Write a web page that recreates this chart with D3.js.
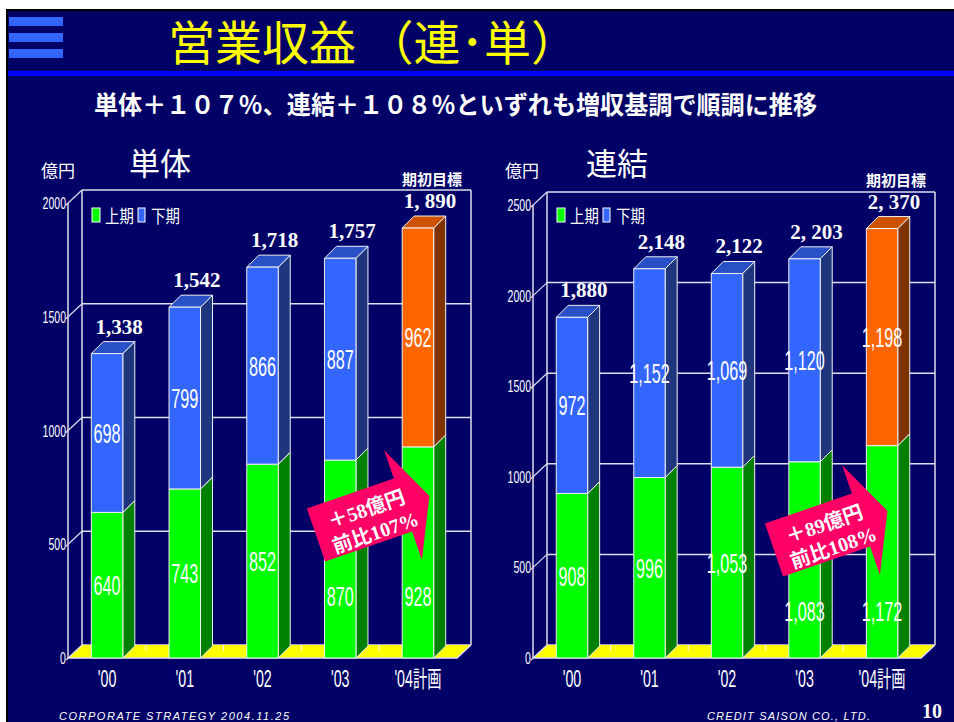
<!DOCTYPE html>
<html><head><meta charset="utf-8">
<script src="https://cdn.jsdelivr.net/npm/d3@7"></script>
<style>
html,body{margin:0;padding:0;background:#fff;}
svg{display:block;}
</style></head>
<body>
<script>
// ---------- data ----------
const categories = ["'00", "'01", "'02", "'03", "'04計画"];
const isPlan = [false, false, false, false, true];
const legendLabels = ["上期", "下期"];

const singleTicks = [0, 500, 1000, 1500, 2000];
const singleFirstHalf = [640, 743, 852, 870, 928];
const singleSecondHalf = [698, 799, 866, 887, 962];
const singleTotals = ["1,338", "1,542", "1,718", "1,757", "1, 890"];

const consolTicks = [0, 500, 1000, 1500, 2000, 2500];
const consolFirstHalf = [908, 996, 1053, 1083, 1172];
const consolSecondHalf = [972, 1152, 1069, 1120, 1198];
const consolTotals = ["1,880", "2,148", "2,122", "2, 203", "2, 370"];

const singleArrowText = ["＋58億円", "前比107%"];
const consolArrowText = ["＋89億円", "前比108%"];

const titleText = "営業収益 （連･単）";
const subtitleText = "単体＋１０７％、連結＋１０８％といずれも増収基調で順調に推移";
const footerLeft = "CORPORATE STRATEGY 2004.11.25";
const footerRight = "CREDIT SAISON CO., LTD.";
const pageNo = "10";

// ---------- styles ----------
const NAVY = "#000066";
const COLORS = {
  first: {front: "#00FF00", side: "#008000", top: "#00C000"},
  second: {front: "#3366FF", side: "#1F367F", top: "#2A50C8"},
  plan: {front: "#FF6600", side: "#803300", top: "#CC5200"}
};
const LINE = "#dedeee";
const CJK = "'Noto Sans CJK JP', sans-serif";
const COND = "'Liberation Sans', Arial, 'Noto Sans CJK JP', sans-serif";
const SERIF = "'Liberation Serif', 'Times New Roman', 'Noto Sans CJK JP', serif";

const W = 954, H = 722;
const svg = d3.select("body").append("svg").attr("width", W).attr("height", H);

// page frame
svg.append("rect").attr("x", 0).attr("y", 0).attr("width", W).attr("height", H).attr("fill", "#fff");
svg.append("rect").attr("x", 6).attr("y", 9).attr("width", W - 6).attr("height", H - 9).attr("fill", "#000");
svg.append("rect").attr("x", 8).attr("y", 11).attr("width", W - 8).attr("height", H - 11).attr("fill", NAVY);

// hamburger bars
[17, 33, 49].forEach(y => svg.append("rect").attr("x", 9).attr("y", y).attr("width", 54).attr("height", 9).attr("fill", "#3366FF"));
// blue rule
svg.append("rect").attr("x", 8).attr("y", 71).attr("width", W - 8).attr("height", 5).attr("fill", "#0000FF");

// title
svg.append("text").attr("x", 168).attr("y", 60).attr("fill", "#FFFF00")
  .attr("font-family", CJK).attr("font-size", 47).attr("xml:space", "preserve")
  .style("white-space", "pre").text(titleText);

// subtitle
svg.append("text").attr("x", 94).attr("y", 114).attr("fill", "#fff")
  .attr("font-family", CJK).attr("font-weight", "bold").attr("font-size", 25)
  .attr("textLength", 723).attr("lengthAdjust", "spacingAndGlyphs").text(subtitleText);

// footer
svg.append("text").attr("x", 59).attr("y", 720).attr("fill", "#fff")
  .attr("font-family", "'Liberation Sans', Arial, sans-serif").attr("font-style", "italic").attr("font-size", 11)
  .attr("textLength", 230).attr("lengthAdjust", "spacing").text(footerLeft);
svg.append("text").attr("x", 707).attr("y", 720).attr("fill", "#fff")
  .attr("font-family", "'Liberation Sans', Arial, sans-serif").attr("font-style", "italic").attr("font-size", 11)
  .attr("textLength", 163).attr("lengthAdjust", "spacing").text(footerRight);
svg.append("text").attr("x", 922).attr("y", 718).attr("fill", "#fff")
  .attr("font-family", SERIF).attr("font-weight", "bold").attr("font-size", 20).text(pageNo);

function condText(g, x, y, txt, size, sx, anchor) {
  return g.append("text")
    .attr("transform", `translate(${x},${y}) scale(${sx},1)`)
    .attr("text-anchor", anchor || "middle")
    .attr("font-family", COND).attr("font-size", size).attr("fill", "#fff").text(txt);
}

const fmt = d3.format(",");

function drawChart(cfg) {
  const g = svg.append("g");
  const wdx = 14, wdy = -13;   // wall depth
  const bdx = 12, bdy = -12;   // bar depth

  const x = d3.scaleBand().domain(categories).range([cfg.x0, cfg.x1]).paddingInner(0.595).paddingOuter(0.3);
  const y = d3.scaleLinear().domain([0, cfg.max]).range([cfg.yBase, cfg.yTop]);
  const step = (cfg.x1 - cfg.x0) / categories.length;

  // back wall gridlines
  g.selectAll(".grid").data(cfg.ticks).join("line")
    .attr("x1", cfg.x0 + wdx).attr("x2", cfg.x1 + wdx)
    .attr("y1", d => y(d) + wdy).attr("y2", d => y(d) + wdy)
    .attr("stroke", LINE).attr("stroke-width", 1.5);
  // wall verticals
  [cfg.x0 + wdx, cfg.x1 + wdx].forEach(xx => g.append("line")
    .attr("x1", xx).attr("x2", xx).attr("y1", y(cfg.max) + wdy).attr("y2", y(0) + wdy)
    .attr("stroke", LINE).attr("stroke-width", 1.5));

  // floor
  g.append("polygon")
    .attr("points", [[cfg.x0, y(0)], [cfg.x1, y(0)], [cfg.x1 + wdx, y(0) + wdy], [cfg.x0 + wdx, y(0) + wdy]].map(p => p.join(",")).join(" "))
    .attr("fill", "#FFFF00");
  g.append("polyline")
    .attr("points", [[cfg.x0, y(0)], [cfg.x1, y(0)], [cfg.x1 + wdx, y(0) + wdy]].map(p => p.join(",")).join(" "))
    .attr("fill", "none").attr("stroke", LINE).attr("stroke-width", 1.5);
  d3.range(1, categories.length).forEach(i => g.append("line")
    .attr("x1", cfg.x0 + i * step).attr("x2", cfg.x0 + i * step)
    .attr("y1", y(0) + wdy).attr("y2", y(0) + wdy + 6)
    .attr("stroke", "#fff").attr("stroke-width", 1));

  // front axis + tick connectors
  g.append("line").attr("x1", cfg.x0).attr("x2", cfg.x0).attr("y1", y(cfg.max)).attr("y2", y(0))
    .attr("stroke", LINE).attr("stroke-width", 1.5);
  g.selectAll(".conn").data(cfg.ticks).join("line")
    .attr("x1", cfg.x0 - 2).attr("x2", cfg.x0 + wdx)
    .attr("y1", d => y(d) + 2).attr("y2", d => y(d) + wdy)
    .attr("stroke", LINE).attr("stroke-width", 1.2);
  cfg.ticks.forEach(t => condText(g, cfg.x0 - 2, y(t) + 6, String(t), 16, 0.66, "end"));

  // bars
  categories.forEach((c, i) => {
    const bx = x(c), bw = x.bandwidth();
    const segs = [
      {v0: 0, v1: cfg.first[i], col: COLORS.first, val: cfg.first[i]},
      {v0: cfg.first[i], v1: cfg.first[i] + cfg.second[i], col: isPlan[i] ? COLORS.plan : COLORS.second, val: cfg.second[i]}
    ];
    segs.forEach((s, k) => {
      const yb = y(s.v0), yt = y(s.v1);
      const sg = g.append("g").attr("stroke", "#f0f0f0").attr("stroke-width", 1).attr("stroke-linejoin", "round");
      sg.append("polygon").attr("fill", s.col.side)
        .attr("points", [[bx + bw, yt], [bx + bw + bdx, yt + bdy], [bx + bw + bdx, yb + bdy], [bx + bw, yb]].map(p => p.join(",")).join(" "));
      sg.append("polygon").attr("fill", s.col.top)
        .attr("points", [[bx, yt], [bx + bdx, yt + bdy], [bx + bw + bdx, yt + bdy], [bx + bw, yt]].map(p => p.join(",")).join(" "));
      sg.append("rect").attr("fill", s.col.front).attr("x", bx).attr("y", yt).attr("width", bw).attr("height", yb - yt);
    });
  });

  // in-bar labels
  categories.forEach((c, i) => {
    const cx = x(c) + x.bandwidth() / 2;
    const y1 = cfg.shifted.includes(i) ? y(0) - cfg.shiftOffset : (y(0) + y(cfg.first[i])) / 2;
    condText(g, cx, y1 + 10, fmt(cfg.first[i]), 27, 0.6);
    const y2 = (y(cfg.first[i]) + y(cfg.first[i] + cfg.second[i])) / 2;
    condText(g, cx, y2 + 10, fmt(cfg.second[i]), 27, 0.6);
  });

  // totals
  categories.forEach((c, i) => {
    const cx = x(c) + x.bandwidth() / 2 + 12;
    g.append("text").attr("x", cx).attr("y", y(cfg.first[i] + cfg.second[i]) - 20)
      .attr("text-anchor", "middle").attr("font-family", SERIF).attr("font-weight", "bold")
      .attr("font-size", 21).attr("fill", "#fff").text(cfg.totals[i]);
    if (isPlan[i]) {
      g.append("text").attr("x", x(c) + x.bandwidth() / 2 + 14).attr("y", y(cfg.first[i] + cfg.second[i]) - 43)
        .attr("text-anchor", "middle").attr("font-family", CJK).attr("font-weight", "bold")
        .attr("font-size", 15).attr("fill", "#fff").text("期初目標");
    }
  });

  // category labels
  categories.forEach(c => condText(g, x(c) + x.bandwidth() / 2, 687, c, 23, 0.62));

  // titles
  g.append("text").attr("x", cfg.unitX).attr("y", 177).attr("font-family", CJK).attr("font-size", 17)
    .attr("fill", "#fff").text("億円");
  g.append("text").attr("x", cfg.titleX).attr("y", 175).attr("text-anchor", "middle").attr("font-family", CJK)
    .attr("font-size", 31).attr("fill", "#fff").text(cfg.title);

  // legend
  const lx = cfg.x0 + wdx + 10, ly = 208;
  const lcols = [COLORS.first.front, COLORS.second.front];
  [0, 46].forEach((off, k) => {
    g.append("rect").attr("x", lx + off).attr("y", ly).attr("width", k === 0 ? 8 : 7).attr("height", 14)
      .attr("fill", lcols[k]).attr("stroke", "#fff").attr("stroke-width", 1);
    condText(g, lx + off + 13, ly + 15, legendLabels[k], 18, 0.8, "start");
  });

  // arrow
  const a = g.append("g").attr("transform", `translate(${cfg.arrow[0]},${cfg.arrow[1]}) rotate(-19)`);
  a.append("path").attr("d", "M0,-28 L92,-28 L92,-58 L120,0 L92,58 L92,28 L0,28 Z").attr("fill", "#FF0066");
  a.append("text").attr("x", 56).attr("y", -1).attr("text-anchor", "middle").attr("font-family", SERIF)
    .attr("font-weight", "bold").attr("font-size", 20).attr("fill", "#fff").text(cfg.arrowText[0]);
  a.append("text").attr("x", 57).attr("y", 24).attr("text-anchor", "middle").attr("font-family", SERIF)
    .attr("font-weight", "bold").attr("font-size", 20).attr("fill", "#fff").text(cfg.arrowText[1]);
}

drawChart({
  x0: 68, x1: 457, yBase: 658, yTop: 203, max: 2000, ticks: singleTicks,
  first: singleFirstHalf, second: singleSecondHalf, totals: singleTotals,
  title: "単体", titleX: 160, unitX: 41, shifted: [3, 4], shiftOffset: 62,
  arrow: [316, 535], arrowText: singleArrowText
});
drawChart({
  x0: 533, x1: 921, yBase: 658, yTop: 205, max: 2500, ticks: consolTicks,
  first: consolFirstHalf, second: consolSecondHalf, totals: consolTotals,
  title: "連結", titleX: 617, unitX: 505, shifted: [3, 4], shiftOffset: 47,
  arrow: [774, 550], arrowText: consolArrowText
});
</script>
</body></html>
